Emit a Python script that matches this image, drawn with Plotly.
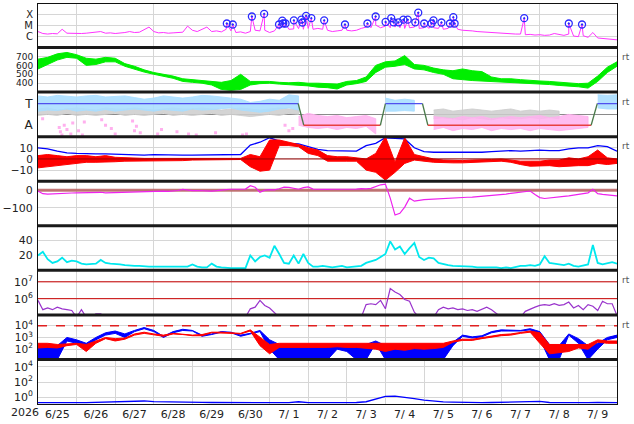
import numpy as np
import plotly.graph_objects as go
from plotly.subplots import make_subplots

# day labels (noon of each day), x axis runs 6/25 00UT .. 7/10 00UT (in days)
day_labels = ["6/25", "6/26", "6/27", "6/28", "6/29", "6/30", "7/ 1", "7/ 2",
              "7/ 3", "7/ 4", "7/ 5", "7/ 6", "7/ 7", "7/ 8", "7/ 9"]
year_label = "2026"

# X-ray flux, log10, every 3 h
xray_log = [-5.53, -5.71, -5.76, -5.71, -5.74, -5.32, -5.68, -5.71, -5.68, -5.71,
            -5.68, -5.65, -5.59, -5.53, -5.68, -5.65, -5.71, -5.68, -5.62, -5.53,
            -5.62, -5.59, -5.35, -5.12, -5.53, -5.65, -5.62, -5.68, -5.65, -5.62,
            -5.59, -5.03, -5.41, -5.53, -5.32, -5.12, -5.53, -5.47, -5.56, -5.32,
            -5.47, -5.62, -5.56, -5.68, -5.53, -5.41, -5.47, -5.41, -5.62, -5.47,
            -5.32, -5.18, -5.32, -5.29, -5.26, -5.32, -5.24,
            -5.32, -5.24, -5.32, -5.41, -5.53, -5.47, -5.41, -5.41, -5.47, -5.41,
            -5.24, -5.12, -5.18, -4.94, -5.18, -5.03, -5.18, -5.12, -5.18, -5.24,
            -5.18, -5.12, -5.24, -5.18, -5.24, -5.18, -5.24, -5.32, -5.24, -5.18,
            -5.32, -5.41, -5.41, -5.47, -5.53, -5.56, -5.62, -5.65, -5.68, -5.71,
            -5.74, -5.71, -5.76, -5.76, -5.82, -5.79, -5.85, -5.82, -5.88, -5.85,
            -5.71, -5.82, -5.88, -5.76, -5.94, -6.0, -5.91, -6.06, -5.62, -6.12,
            -6.15, -6.21, -6.26, -6.29]
flare_day = [4.892, 5.046, 5.541, 5.859, 6.244, 6.329, 6.354, 6.413, 6.629, 6.824,
             6.850, 6.945, 7.081, 7.414, 7.953, 8.535, 8.748, 9.005, 9.151, 9.210,
             9.338, 9.466, 9.579, 9.774, 9.851, 10.005, 10.195, 10.246, 10.452,
             10.672, 10.759, 10.793, 12.596, 13.751, 14.094]
flare_log = [-4.79, -4.88, -4.15, -3.91, -4.88, -4.53, -4.77, -4.79, -4.50, -4.44,
             -4.70, -4.09, -4.30, -4.50, -4.88, -4.79, -4.15, -4.65, -4.30, -4.68,
             -4.68, -4.44, -4.44, -4.68, -3.80, -4.79, -4.79, -4.50, -4.70,
             -4.79, -4.21, -4.79, -4.30, -4.79, -4.88]

# solar wind speed envelope, every 6 h
speed_hi = [670, 690, 730, 745, 720, 680, 670, 690, 680, 620, 590, 550, 520, 500, 480,
            450, 440, 430, 420, 410, 430, 500, 420, 420, 420, 410, 405, 410, 400,
            400, 395, 390, 420, 430, 470, 600, 640, 650, 710, 610, 600, 570, 550, 540,
            560, 540, 530, 470, 450, 450, 440, 430, 425, 420, 410, 400, 395, 400, 480,
            580, 640]
speed_lo = [560, 610, 660, 690, 680, 600, 610, 640, 640, 590, 560, 525, 500, 475, 455,
            420, 410, 400, 380, 330, 320, 330, 380, 395, 400, 390, 380, 375, 370,
            355, 350, 335, 380, 395, 420, 520, 580, 590, 610, 560, 550, 520, 500, 450,
            440, 430, 420, 420, 415, 410, 405, 400, 390, 385, 375, 365, 360, 345, 420,
            520, 590]

# sector polarity (T = +1, A = -1)
sector_day = [0, 6.74, 6.885, 8.87, 9.0, 9.96, 10.1, 14.33, 14.49, 15]
sector_val = [1, 1, -1, -1, 1, 1, -1, -1, 1, 1]
N = None
toward_hi = [1.7, 1.6, 1.75, 1.7, 1.6, 1.7, 1.75, 1.6, 1.65, 1.7, 1.55, 1.4, 1.5, 1.7,
             1.6, 1.5, 1.6, 1.75, 1.7, 1.6, 1.5, 1.4, 1.1, 1.2, 1.4, 1.3, 1.8, 1.7,
             N, N, N, N, N, N, N, N, 1.5, 1.3, 1.4, 1.3,
             N, N, N, N, N, N, N, N, N, N, N, N, N, N, N, N, N, N, 1.8, 1.75, 1.8]
toward_lo = [0.3, 0.4, 0.35, 0.5, 0.3, 0.4, 0.3, 0.45, 0.3, 0.4, 0.5, 0.4, 0.3, 0.45,
             0.4, 0.3, 0.5, 0.4, 0.45, 0.5, 0.6, 0.4, 0.3, 0.2, 0.3, 0.5, 0.6, 0.4,
             N, N, N, N, N, N, N, N, 0.3, 0.3, 0.35, 0.3,
             N, N, N, N, N, N, N, N, N, N, N, N, N, N, N, N, N, N, 0.6, 0.5, 0.5]
away_hi = [N, N, N, N, N, N, N, N, N, N, N, N, N, N, N, N, N, N, N, N, N, N, N, N, N,
           N, N, -0.2, 0.1, -0.1, -0.2, -0.1, -0.3, -0.2, -0.1, -0.4, N, N, N, N, N,
           -0.2, -0.3, -0.4, -0.2, -0.3, -0.2, -0.4, -0.3, -0.2, -0.3, -0.2, -0.1,
           -0.3, -0.2, 0.0, -0.1, -0.2, N, N, N]
away_lo = [N, N, N, N, N, N, N, N, N, N, N, N, N, N, N, N, N, N, N, N, N, N, N, N, N,
           N, N, -1.0, -1.2, -1.3, -1.2, -1.4, -1.2, -1.3, -1.1, -1.8, N, N, N, N, N,
           -1.4, -1.2, -1.5, -1.3, -1.4, -1.2, -1.5, -1.3, -1.4, -1.3, -1.5, -1.3,
           -1.4, -1.5, -1.4, -1.3, -1.2, N, N, N]
mixed_hi = [0.5, 0.6, 0.4, 0.5, 0.6, 0.5, 0.4, 0.6, 0.5, 0.5, 0.6, 0.5, 0.4, 0.5, 0.6,
            0.5, 0.5, 0.6, 0.5, 0.4, 0.5, 0.6, 0.5, 0.4, 0.5, 0.6, 0.5, 0.4,
            N, N, N, N, N, N, N, N, N, N, N, N, N,
            0.4, 0.5, 0.3, 0.4, 0.5, 0.4, 0.3, 0.4, 0.5, 0.3, 0.4, 0.3, 0.4, 0.3,
            N, N, N, N, N, N]
mixed_lo = [-0.1, 0.0, -0.1, 0.1, -0.1, 0.0, -0.1, 0.0, 0.1, -0.1, 0.0, -0.1, 0.0, 0.1,
            -0.1, 0.0, -0.1, 0.0, 0.1, -0.1, 0.0, -0.1, -0.2, -0.1, 0.0, -0.1, 0.1, 0.0,
            N, N, N, N, N, N, N, N, N, N, N, N, N,
            -0.4, -0.3, -0.4, -0.5, -0.3, -0.4, -0.5, -0.3, -0.4, -0.4, -0.3, -0.4,
            -0.3, -0.4, N, N, N, N, N, N]
pink_dot_day = [0.12, 0.55, 0.58, 0.62, 0.68, 0.75, 0.85, 0.9, 1.05, 1.15, 1.2, 1.65,
                1.75, 1.9, 2.0, 2.45, 2.5, 2.55, 2.65, 3.1, 3.2, 3.6, 3.9, 4.1, 4.6,
                5.3, 5.4, 6.4, 6.5, 6.6]
pink_dot_val = [-0.4, -1.2, -1.6, -1.9, -1.0, -1.4, -1.8, -0.8, -1.5, -1.9, -0.7, -0.5,
                -1.0, -1.3, -1.8, -0.6, -1.5, -1.1, -1.7, -1.8, -1.4, -1.6, -1.8, -1.9,
                -1.7, -1.9, -1.8, -1.0, -1.5, -1.3]

# IMF Bt (every 6 h) and Bz envelope (every 6 h), nT
bt = [10, 9, 7, 5.5, 5, 4.5, 4.5, 4.5, 4.2, 4, 3.8, 3.5, 3.8, 3.5, 3.5, 3.5, 3.5, 3.5,
      3.6, 3.8, 4, 4, 12.5, 15, 19, 16, 14, 13.5, 11,
      8.5, 7.5, 7.5, 7.2, 7, 12, 14, 19, 18.5, 18, 10, 6.5, 6, 6, 5.8, 5.8, 5.5, 6,
      6.5, 7, 7.5, 7, 7.5, 8, 7.5, 7.5, 9, 10, 10, 12, 11, 7]
bz_hi = [3, 4, 3, 2, 3, 3, 2, 3, 1.5, 1, 1, 0.5, 0.5, 0.5, 0.5, 0.5, 0.5, 0.5, 0, 0,
         0.5, 0.5, 4, 2, 17, 17, 15, 13, 10,
         8, 3, 2, 2, 1, 0, 5, 20, -3, 19, 4, 2, 0, -1, -1.5, -1.5, -1, -1, -0.5, 0,
         -1, -2, -2, -2, -1, -1, 1, 0, 2, 8, 1, 0]
bz_lo = [-8, -7, -6, -5, -4, -3, -3, -3, -2.5, -2, -1.5, -1.5, -2, -1.5, -1.5, -1.5,
         -1, -1, -1, -1, -0.5, -0.5, -7, -11, -10, 12, 12, 11, 5,
         3, -2, -2, -2, -2, -10, -12, -19, -12, -4, -1, -2, -3, -3.5, -3.5, -3.5, -3,
         -3, -2.5, -2, -3, -5, -6.5, -6.5, -6, -7, -6.5, -6, -6, -4, -5, -4]

# Dst, every 3 h, nT
dst = [-5, -20, -22, -20, -18, -20, -18, -16, -15, -14, -15, -13, -14, -12, -15, -14,
       -12, -14, -12, -11, -12, -11, -10, -9, -8, -7, -6, -7, -5, -2, 4, -1, -3, -2,
       -4, -3, -5, -3, -2, 3, 5, 6, 4, 6, 25, 16, -12, 0, 3, 2, 8, 17, 16, 12, 5, 14,
       18,
       6, 4, 5, 4, 5, 5, 4, 5, 4, 6, 9, 7, 10, 22, 30, 34, -45, -140, -130, -95,
       -45, -62, -56, -53, -52, -50, -50, -49, -47, -45, -44, -42, -40, -39, -37, -35,
       -32, -30, -28, -25, -22, -18, -15, -10, -8, -5, -25, -42, -47, -45, -40, -37,
       -35, -32, -28, -25, -20, -15, 5, -20, -24, -27, -30, -32]

# solar wind density, every 3 h, /cc
density = [20, 25, 15, 10, 12, 17, 11, 13, 12, 9, 8, 8, 9, 14, 10, 9, 9, 8, 7, 6, 6, 6,
           5, 5, 5, 5, 5, 4, 5, 5, 4, 5, 8, 5, 4, 4, 9, 5, 4, 3, 3, 3, 3, 3, 20, 12, 18,
           20, 17, 33, 22, 10, 9, 20, 9, 22, 10,
           5, 5, 6, 5, 4, 5, 6, 4, 5, 5, 6, 10, 12, 14, 18, 22, 39, 28, 32, 22,
           30, 37, 18, 14, 17, 16, 10, 8, 7, 6, 6, 5, 6, 5, 4, 4, 5, 4, 4, 3,
           4, 3, 5, 6, 6, 7, 6, 8, 19, 10, 9, 8, 7, 9, 6, 5, 6, 8, 34, 10, 8, 9, 11, 9]

# proton flux, log10, every 3 h
proton_log = [5.9, 5.35, 5.45, 5.35, 5.5, 5.4, 5.35, 5.3, 4.9, 5.35, 4.9, 4.9, 5.1, 5.1,
              4.9, 4.9, 4.9, 4.9, 4.9, 4.9, 4.9, 4.9, 4.9, 4.9, 4.9, 4.9, 4.9, 4.9,
              4.9, 4.9, 4.9, 4.9, 4.9, 4.9, 4.9, 4.9, 4.9, 4.9, 4.9, 4.9, 4.9, 4.9,
              4.9, 4.9, 5.4, 5.5, 5.9, 5.6, 5.45, 5.2, 4.9, 4.9, 4.9, 4.9, 4.9, 4.9,
              4.9, 4.9, 4.9, 4.9, 4.9, 4.9, 4.9, 4.9, 4.9, 4.9, 4.9, 4.9, 5.65, 5.7,
              5.65, 5.9, 5.4, 6.6, 6.4, 6.25, 5.95, 5.85, 5.2, 4.9, 4.9, 4.9, 4.9, 5.35,
              5.5, 5.4, 5.45, 5.35, 5.4, 5.3, 5.35, 5.25, 5.4, 5.5, 5.35, 5.15, 4.9,
              4.9, 4.9, 4.9, 4.9, 5.25, 5.4, 5.5, 5.6, 5.65, 5.6, 5.7, 5.6, 5.65, 5.8,
              5.45, 5.6, 5.35, 5.65, 5.55, 5.3, 5.85, 5.7, 5.7, 5.0]
proton_levels = [1e6, 1e7]

# electron flux envelopes, log10, every 6 h
eb_hi = [2.4, 2.4, 2.3, 3.0, 2.8, 2.5, 3.0, 3.4, 3.55, 3.3, 3.6, 3.85, 3.6, 3.1, 3.5,
         3.7, 3.6, 3.2, 3.3, 3.5, 3.45, 3.2, 3.35, 3.6, 2.8, 2.4, 2.4, 2.3, 2.4,
         2.4, 2.4, 2.25, 2.2, 2.4, 2.4, 2.7, 2.3, 2.3, 2.3, 2.3, 2.3, 2.3, 2.2, 2.6,
         3.2, 3.05, 3.15, 3.5, 3.65, 3.62, 3.6, 3.75, 3.5, 2.4, 2.3, 3.3, 2.9, 2.3,
         2.5, 3.0, 3.2]
eb_lo = [1.1, 1.1, 1.1, 2.7, 2.5, 2.0, 2.8, 3.2, 3.35, 3.0, 3.5, 3.75, 3.5, 3.0, 3.4,
         3.6, 3.55, 3.1, 3.25, 3.45, 3.4, 3.1, 3.3, 3.5, 2.0, 1.1, 1.1, 1.2, 1.1,
         1.1, 1.1, 2.0, 1.8, 1.1, 1.1, 2.5, 1.1, 1.1, 1.1, 1.1, 1.1, 1.1, 1.1, 2.3,
         3.1, 2.95, 3.05, 3.4, 3.55, 3.55, 3.55, 3.65, 2.9, 1.1, 1.1, 3.2, 2.5, 1.1,
         2.0, 2.8, 3.0]
er_hi = [2.5, 2.5, 2.4, 2.45, 2.5, 2.4, 2.7, 3.0, 2.9, 2.95, 3.3, 3.45, 3.3, 3.2, 3.35,
         3.3, 3.2, 3.25, 3.45, 3.45, 3.4, 3.35, 3.65, 3.0, 2.4, 2.5, 2.5, 2.5, 2.5,
         2.5, 2.45, 2.5, 2.5, 2.5, 2.45, 2.5, 2.5, 2.5, 2.45, 2.5, 2.5, 2.5, 2.5, 2.7,
         2.85, 2.85, 3.0, 3.15, 3.25, 3.3, 3.45, 3.55, 3.4, 2.4, 2.4, 2.4, 2.4, 2.4,
         2.8, 2.7, 2.7]
er_lo = [2.1, 2.15, 2.1, 2.3, 2.4, 1.8, 2.5, 2.9, 2.7, 2.85, 3.2, 3.35, 3.2, 3.1, 3.3,
         3.25, 3.15, 3.15, 3.4, 3.4, 3.35, 3.3, 3.55, 2.3, 1.6, 2.15, 2.2, 2.15, 2.2,
         2.15, 2.15, 2.2, 2.15, 2.15, 2.1, 2.0, 1.8, 2.0, 1.9, 2.05, 2.0, 2.05, 2.15,
         2.6, 2.75, 2.75, 2.9, 3.05, 3.15, 3.2, 3.35, 3.45, 2.5, 1.6, 1.7, 1.8, 2.1,
         2.0, 2.6, 2.5, 2.5]
electron_alert = [1e4]

# bottom panel flux, log10, every 6 h
low_log = [-0.72, -0.7, -0.72, -0.7, -0.72, -0.72, -0.7, -0.68, -0.66, -0.62, -0.6,
           -0.5, -0.58, -0.62, -0.64, -0.66, -0.68, -0.68, -0.7, -0.7, -0.7, -0.72,
           -0.72, -0.72, -0.72, -0.72, -0.72, -0.6, -0.72,
           -0.72, -0.72, -0.7, -0.72, -0.7, -0.6, -0.3, 0.1, 0.15, 0.0, -0.2, -0.4,
           -0.55, -0.62, -0.66, -0.7, -0.7, -0.72, -0.7, -0.68, -0.66, -0.66, -0.62,
           -0.55, -0.7, -0.72, -0.72, -0.72, -0.72, -0.7, -0.72, -0.72]

X_END = 15
t3 = np.arange(len(xray_log)) * 0.125
t6 = np.arange(len(speed_hi)) * 0.25

fig = make_subplots(rows=9, cols=1, shared_xaxes=True, vertical_spacing=0,
                    row_heights=[44, 45, 45, 45, 45, 45, 45, 45, 45])


def band(row, t, hi, lo, color, log=False, width=1):
    segs, seg = [], []
    for ti, h, l in zip(t, hi, lo):
        if h is None:
            if seg:
                segs.append(seg)
            seg = []
        else:
            seg.append((ti, h, l))
    if seg:
        segs.append(seg)
    for s in segs:
        ts = [p[0] for p in s]
        ys = [p[1] for p in s] + [p[2] for p in s][::-1]
        if log:
            ys = [10 ** v for v in ys]
        fig.add_trace(go.Scatter(x=ts + ts[::-1], y=ys, mode="lines", fill="toself",
                                 fillcolor=color, line=dict(color=color, width=width),
                                 hoverinfo="skip", showlegend=False), row=row, col=1)


def hline(row, y, color, width=1, dash="solid"):
    fig.add_trace(go.Scatter(x=[0, X_END], y=[y, y], mode="lines",
                             line=dict(color=color, width=width, dash=dash),
                             hoverinfo="skip", showlegend=False), row=row, col=1)


# 1. X-ray
pts = sorted(zip(list(t3) + flare_day, xray_log + flare_log))
fig.add_trace(go.Scatter(x=[p[0] for p in pts], y=[10 ** p[1] for p in pts], mode="lines",
                         line=dict(color="#ff33ff", width=1), showlegend=False), row=1, col=1)
fig.add_trace(go.Scatter(x=flare_day, y=[10 ** v for v in flare_log], mode="markers",
                         marker=dict(symbol="circle-open-dot", size=7, color="#2a2aff",
                                     line=dict(width=1.3)), showlegend=False), row=1, col=1)

# 2. speed
band(2, t6, speed_hi, speed_lo, "#00ee00")

# 3. sector
band(3, t6, mixed_hi, mixed_lo, "rgba(205,205,205,0.85)")
band(3, t6, away_hi, away_lo, "rgba(255,176,238,0.85)")
band(3, t6, toward_hi, toward_lo, "rgba(170,222,255,0.9)")
fig.add_trace(go.Scatter(x=pink_dot_day, y=pink_dot_val, mode="markers",
                         marker=dict(color="#ffb0ee", size=3, symbol="square"),
                         showlegend=False), row=3, col=1)
for i in range(len(sector_day) - 1):
    a, b = sector_val[i], sector_val[i + 1]
    c = "#5050ee" if a == b == 1 else ("#e84040" if a == b == -1 else "#4a7a4a")
    fig.add_trace(go.Scatter(x=sector_day[i:i + 2], y=sector_val[i:i + 2], mode="lines",
                             line=dict(color=c, width=1.3), showlegend=False), row=3, col=1)

# 4. IMF
fig.add_trace(go.Scatter(x=t6, y=bt, mode="lines", line=dict(color="#0000ff", width=1.3),
                         showlegend=False), row=4, col=1)
band(4, t6, bz_hi, bz_lo, "#ff0000")
hline(4, 0, "#990000", 1)

# 5. Dst
hline(5, 0, "rgba(185,95,95,0.85)", 3)
fig.add_trace(go.Scatter(x=t3, y=dst, mode="lines", line=dict(color="#ee22ee", width=1.2),
                         showlegend=False), row=5, col=1)

# 6. density
fig.add_trace(go.Scatter(x=t3, y=density, mode="lines", line=dict(color="#00e8ee", width=1.8),
                         showlegend=False), row=6, col=1)

# 7. protons
for lev in proton_levels:
    hline(7, lev, "#cc0000", 1)
fig.add_trace(go.Scatter(x=t3, y=[10 ** v for v in proton_log], mode="lines",
                         line=dict(color="#9933cc", width=1.2), showlegend=False), row=7, col=1)

# 8. electrons
for lev in electron_alert:
    hline(8, lev, "#e02020", 1.5, "dash")
band(8, t6, eb_hi, eb_lo, "#0000ff", log=True)
band(8, t6, er_hi, er_lo, "#ff0000", log=True)

# 9. bottom
fig.add_trace(go.Scatter(x=t6, y=[10 ** v for v in low_log], mode="lines",
                         line=dict(color="#0000ff", width=1.3), showlegend=False), row=9, col=1)

grid = "#d6d6d6"
yspec = {
    1: dict(type="log", range=[-7, -3], tickvals=[1e-6, 1e-5, 1e-4], ticktext=["C", "M", "X"],
            tickfont=dict(size=10)),
    2: dict(range=[300, 800], tickvals=[400, 500, 600, 700], tickfont=dict(size=9)),
    3: dict(range=[-2.05, 2.05], tickvals=[-1, 1], ticktext=["A", "T"], showgrid=False,
            zeroline=True, zerolinecolor="#8a8a8a", zerolinewidth=1, tickfont=dict(size=12)),
    4: dict(range=[-20, 20], tickvals=[-10, 0, 10], tickfont=dict(size=10.5)),
    5: dict(range=[-200, 50], tickvals=[-100, 0]),
    6: dict(range=[0, 60], tickvals=[20, 40]),
    7: dict(type="log", range=[5.04, 7.68], tickvals=[1e6, 1e7],
            ticktext=["10<sup>6</sup>", "10<sup>7</sup>"]),
    8: dict(type="log", range=[1.12, 4.93], tickvals=[1e2, 1e3, 1e4],
            ticktext=["10<sup>2</sup>", "10<sup>3</sup>", "10<sup>4</sup>"],
            tickfont=dict(size=10.5)),
    9: dict(type="log", range=[-0.9, 5.0], tickvals=[1, 1e2, 1e4],
            ticktext=["10<sup>0</sup>", "10<sup>2</sup>", "10<sup>4</sup>"]),
}
for r in range(1, 10):
    spec = dict(showgrid=True, gridcolor=grid, gridwidth=1, zeroline=False, ticks="",
                showline=True, linecolor="#111", linewidth=1, mirror=True,
                tickmode="array", ticklabelstandoff=2)
    spec.update(yspec[r])
    fig.update_yaxes(row=r, col=1, **spec)
    xspec = dict(range=[0, X_END], showgrid=False, zeroline=False, ticks="", showline=True,
                 linecolor="#111", linewidth=1, mirror=True,
                 minor=dict(tickmode="linear", tick0=0, dtick=1, showgrid=True,
                            gridcolor=grid, gridwidth=1))
    if r == 9:
        xspec.update(tickmode="array", ticktext=day_labels,
                     tickvals=[i + 0.5 for i in range(len(day_labels))])
    else:
        xspec.update(showticklabels=False)
    fig.update_xaxes(row=r, col=1, **xspec)

# thick separators between panels
for r in range(2, 10):
    dom = fig.layout["yaxis" + str(r)].domain
    fig.add_shape(type="line", xref="paper", yref="paper", x0=0, x1=1, y0=dom[1], y1=dom[1],
                  line=dict(color="#1a1a1a", width=3))

for r in [2, 3, 4, 7, 8]:
    fig.add_annotation(text="rt", xref="paper", yref="y%d domain" % r, x=1.006, y=0.78,
                       xanchor="left", yanchor="middle", showarrow=False,
                       font=dict(size=9, color="#555"))
fig.add_annotation(text=year_label, xref="paper", yref="paper", x=-0.022, y=-0.022,
                   xanchor="center", yanchor="middle", showarrow=False, font=dict(size=11))

fig.update_layout(width=634, height=424, margin=dict(l=33, r=17, t=3, b=18),
                  plot_bgcolor="white", paper_bgcolor="white", showlegend=False,
                  font=dict(family="DejaVu Sans", size=11, color="#222"))

fig.write_html("out.html", config={"displayModeBar": False},
               post_script="document.body.style.margin='0px';")
